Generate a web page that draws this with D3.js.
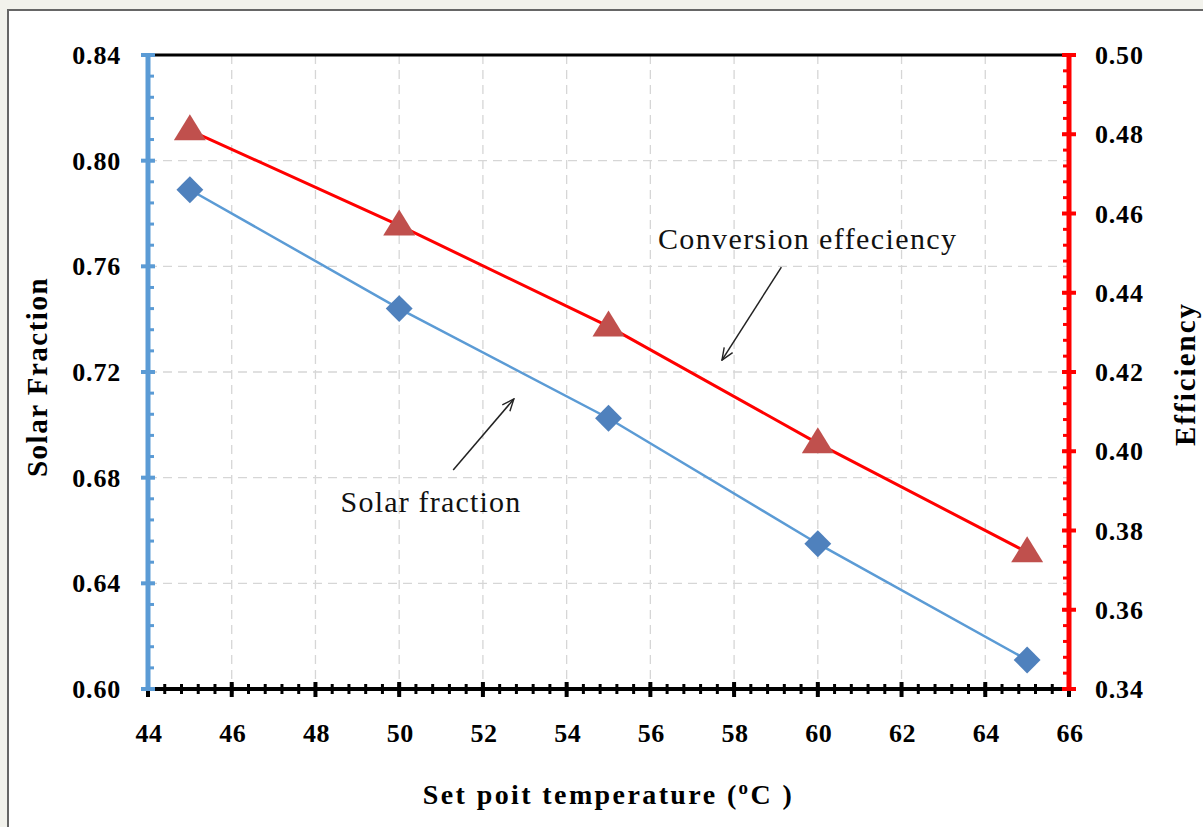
<!DOCTYPE html>
<html>
<head>
<meta charset="utf-8">
<script src="https://cdn.jsdelivr.net/npm/d3@7"></script>
<style>
  body { margin: 0; background: #f2f2ec; }
  #chart { position: absolute; left: 0; top: 0; }
</style>
</head>
<body>
<div id="chart"></div>
<script>
const temps = [45, 50, 55, 60, 65];
const solarFraction = [0.789, 0.744, 0.7025, 0.655, 0.611];
const efficiency = [0.481, 0.457, 0.4315, 0.402, 0.3745];
const xTicks = d3.range(44, 67, 2);
const leftTicks = [0.60, 0.64, 0.68, 0.72, 0.76, 0.80, 0.84];
const rightTicks = [0.34, 0.36, 0.38, 0.40, 0.42, 0.44, 0.46, 0.48, 0.50];

const width = 1203, height = 827,
  margin = ({ top: 55, right: 134, bottom: 138, left: 148 });

const serif = "'Liberation Serif', 'Times New Roman', serif";

const x = d3.scaleLinear()
  .domain([44, 66])
  .range([margin.left, width - margin.right]);

const yL = d3.scaleLinear()
  .domain([0.60, 0.84])
  .range([height - margin.bottom, margin.top]);

const yR = d3.scaleLinear()
  .domain([0.34, 0.50])
  .range([height - margin.bottom, margin.top]);

const svg = d3.select("#chart")
  .append("svg")
  .attr("width", width)
  .attr("height", height)
  .attr("viewBox", [0, 0, width, height]);

// white panel with frame
svg.append("rect")
  .attr("x", 8).attr("y", 10)
  .attr("width", width + 10).attr("height", height + 10)
  .attr("fill", "#fff")
  .attr("stroke", "#666")
  .attr("stroke-width", 2);

const x0 = x.range()[0], x1 = x.range()[1];
const yb = yL.range()[0], yt = yL.range()[1];

// gridlines
const grid = svg.append("g")
  .attr("stroke", "#d6d6d6")
  .attr("stroke-width", 1.3)
  .attr("stroke-dasharray", "9,6");

grid.selectAll(".gx")
  .data(xTicks.slice(1, -1))
  .join("line")
  .attr("x1", d => x(d)).attr("x2", d => x(d))
  .attr("y1", yt).attr("y2", yb);

grid.selectAll(".gy")
  .data(leftTicks.slice(1, -1))
  .join("line")
  .attr("x1", x0).attr("x2", x1)
  .attr("y1", d => yL(d)).attr("y2", d => yL(d));

// top border
svg.append("line")
  .attr("x1", x0).attr("x2", x1)
  .attr("y1", yt).attr("y2", yt)
  .attr("stroke", "#000").attr("stroke-width", 3);

// bottom axis
const xAxis = svg.append("g");
const xMinor = d3.range(44, 66.01, 0.4);
xAxis.selectAll(".mn")
  .data(xMinor)
  .join("line")
  .attr("x1", d => x(d)).attr("x2", d => x(d))
  .attr("y1", yb - 5).attr("y2", yb + 5)
  .attr("stroke", "#000").attr("stroke-width", 3);
xAxis.selectAll(".mj")
  .data(xTicks)
  .join("line")
  .attr("x1", d => x(d)).attr("x2", d => x(d))
  .attr("y1", yb - 7).attr("y2", yb + 8)
  .attr("stroke", "#000").attr("stroke-width", 4);
xAxis.append("line")
  .attr("x1", x0).attr("x2", x1)
  .attr("y1", yb).attr("y2", yb)
  .attr("stroke", "#000").attr("stroke-width", 4);
xAxis.selectAll("text")
  .data(xTicks)
  .join("text")
  .attr("x", d => x(d) + 1)
  .attr("y", yb + 53)
  .attr("text-anchor", "middle")
  .attr("font-family", serif)
  .attr("font-weight", "bold")
  .attr("font-size", 26)
  .attr("letter-spacing", 0.5)
  .text(d => d);

// left axis
const lAxis = svg.append("g");
const lMinor = d3.range(0.60, 0.8401, 0.008);
lAxis.selectAll(".mn")
  .data(lMinor)
  .join("line")
  .attr("x1", x0).attr("x2", x0 + 6)
  .attr("y1", d => yL(d)).attr("y2", d => yL(d))
  .attr("stroke", "#5b9bd5").attr("stroke-width", 3);
lAxis.selectAll(".mj")
  .data(leftTicks)
  .join("line")
  .attr("x1", x0 - 7).attr("x2", x0 + 7)
  .attr("y1", d => yL(d)).attr("y2", d => yL(d))
  .attr("stroke", "#5b9bd5").attr("stroke-width", 4);
lAxis.append("line")
  .attr("x1", x0).attr("x2", x0)
  .attr("y1", yt).attr("y2", yb)
  .attr("stroke", "#5b9bd5").attr("stroke-width", 5);
lAxis.selectAll("text")
  .data(leftTicks)
  .join("text")
  .attr("x", x0 - 27)
  .attr("y", d => yL(d) + 9)
  .attr("text-anchor", "end")
  .attr("font-family", serif)
  .attr("font-weight", "bold")
  .attr("font-size", 26)
  .attr("letter-spacing", 0.8)
  .text(d => d.toFixed(2));

// right axis
const rAxis = svg.append("g");
const rMinor = d3.range(0.34, 0.5001, 0.004);
rAxis.selectAll(".mn")
  .data(rMinor)
  .join("line")
  .attr("x1", x1 - 6).attr("x2", x1)
  .attr("y1", d => yR(d)).attr("y2", d => yR(d))
  .attr("stroke", "#ff0000").attr("stroke-width", 3);
rAxis.selectAll(".mj")
  .data(rightTicks)
  .join("line")
  .attr("x1", x1 - 7).attr("x2", x1 + 7)
  .attr("y1", d => yR(d)).attr("y2", d => yR(d))
  .attr("stroke", "#ff0000").attr("stroke-width", 4);
rAxis.append("line")
  .attr("x1", x1).attr("x2", x1)
  .attr("y1", yt).attr("y2", yb)
  .attr("stroke", "#ff0000").attr("stroke-width", 5);
rAxis.selectAll("text")
  .data(rightTicks)
  .join("text")
  .attr("x", x1 + 26)
  .attr("y", d => yR(d) + 9)
  .attr("text-anchor", "start")
  .attr("font-family", serif)
  .attr("font-weight", "bold")
  .attr("font-size", 26)
  .attr("letter-spacing", 0.8)
  .text(d => d.toFixed(2));

// series lines
const blueLine = d3.line()
  .x((d, i) => x(temps[i]))
  .y(d => yL(d));
const redLine = d3.line()
  .x((d, i) => x(temps[i]))
  .y(d => yR(d));

svg.append("path")
  .datum(solarFraction)
  .attr("d", blueLine)
  .attr("fill", "none")
  .attr("stroke", "#5b9bd5")
  .attr("stroke-width", 2.5);

svg.append("path")
  .datum(efficiency)
  .attr("d", redLine)
  .attr("fill", "none")
  .attr("stroke", "#ff0000")
  .attr("stroke-width", 3);

// markers
svg.selectAll(".dia")
  .data(solarFraction)
  .join("path")
  .attr("transform", (d, i) => `translate(${x(temps[i])},${yL(d)}) rotate(45)`)
  .attr("d", "M-9.5,-9.5H9.5V9.5H-9.5Z")
  .attr("fill", "#4f81bd");

svg.selectAll(".tri")
  .data(efficiency)
  .join("path")
  .attr("transform", (d, i) => `translate(${x(temps[i])},${yR(d)})`)
  .attr("d", "M0,-16L16,10H-16Z")
  .attr("fill", "#c0504d");

// axis titles
svg.append("text")
  .attr("transform", `translate(47,${(yt + yb) / 2 + 5}) rotate(-90)`)
  .attr("text-anchor", "middle")
  .attr("font-family", serif)
  .attr("font-weight", "bold")
  .attr("font-size", 29)
  .attr("letter-spacing", 1.5)
  .text("Solar Fraction");

svg.append("text")
  .attr("transform", `translate(1195,${(yt + yb) / 2 + 2}) rotate(-90)`)
  .attr("text-anchor", "middle")
  .attr("font-family", serif)
  .attr("font-weight", "bold")
  .attr("font-size", 29)
  .attr("letter-spacing", 2)
  .text("Efficiency");

const xt = svg.append("text")
  .attr("x", (x0 + x1) / 2)
  .attr("y", 804)
  .attr("text-anchor", "middle")
  .attr("font-family", serif)
  .attr("font-weight", "bold")
  .attr("font-size", 28)
  .attr("letter-spacing", 2.4);
xt.append("tspan").text("Set poit temperature (");
xt.append("tspan").attr("font-size", 19).attr("dy", -10).text("o");
xt.append("tspan").attr("dy", 10).text("C )");

// annotations
const defs = svg.append("defs");
defs.append("marker")
  .attr("id", "arr")
  .attr("viewBox", "0 0 14 14")
  .attr("refX", 13).attr("refY", 7)
  .attr("markerWidth", 14).attr("markerHeight", 14)
  .attr("markerUnits", "userSpaceOnUse")
  .attr("orient", "auto")
  .append("path")
  .attr("d", "M1,2L13,7L1,12")
  .attr("fill", "none")
  .attr("stroke", "#222")
  .attr("stroke-width", 1.4);

svg.append("text")
  .attr("x", x(56.18))
  .attr("y", yL(0.7665))
  .attr("font-family", serif)
  .attr("font-size", 30)
  .attr("letter-spacing", 1.4)
  .attr("fill", "#111")
  .text("Conversion effeciency");

svg.append("line")
  .attr("x1", x(59.13)).attr("y1", yL(0.7597))
  .attr("x2", x(57.71)).attr("y2", yL(0.7245))
  .attr("stroke", "#222").attr("stroke-width", 1.5)
  .attr("marker-end", "url(#arr)");

svg.append("text")
  .attr("x", x(48.6))
  .attr("y", yL(0.667))
  .attr("font-family", serif)
  .attr("font-size", 30)
  .attr("letter-spacing", 1.2)
  .attr("fill", "#111")
  .text("Solar fraction");

svg.append("line")
  .attr("x1", x(51.29)).attr("y1", yL(0.6829))
  .attr("x2", x(52.74)).attr("y2", yL(0.7098))
  .attr("stroke", "#222").attr("stroke-width", 1.5)
  .attr("marker-end", "url(#arr)");
</script>
</body>
</html>
